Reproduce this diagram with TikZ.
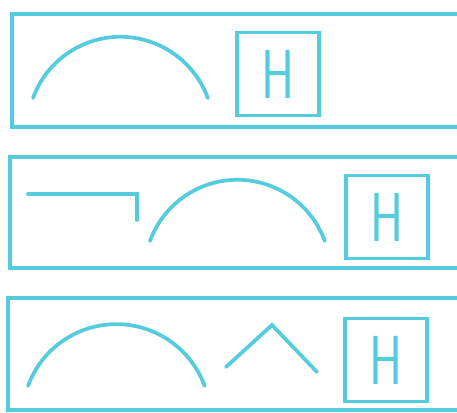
\documentclass[tikz,border=0pt]{standalone}
\usepackage{fontspec}
\usepackage{graphicx}
\definecolor{ink}{RGB}{85,203,222}
\tikzset{
  panel/.style={draw=ink,line width=2.4pt},
  stroke/.style={draw=ink,line width=2.8pt,line cap=round,line join=miter},
  hbox/.style={draw=ink,line width=2.5pt,minimum width=61.5pt,minimum height=62pt,inner sep=0pt,
    text=ink,font=\sffamily\fontsize{52}{52}\selectfont}
}
\newcommand\hletter{\scalebox{0.72}[1]{H}}
\begin{document}
\begin{tikzpicture}[x=0.75pt,y=-0.75pt]
  \useasboundingbox (0,0) rectangle (457,413);
  % first row
  \draw[panel] (12,14) rectangle (480,127);
  \draw[stroke] (33,98) arc[start angle=200,end angle=340,radius=93];
  \node[hbox] (h1) at (278,74) {\hletter};
  % second row
  \draw[panel] (10,157) rectangle (480,268);
  \draw[stroke] (28,194) coordinate (s) -- (137,194) coordinate (k) -- (137,220) coordinate (e);
  \draw[stroke] (150,241) arc[start angle=200,end angle=340,radius=93];
  \node[hbox] (h2) at (387,217) {\hletter};
  % third row
  \draw[panel] (8,298) rectangle (480,410);
  \draw[stroke] (28,386) arc[start angle=200,end angle=340,radius=94];
  \draw[stroke] (226,367) coordinate (l) -- (272,325) coordinate (t) -- (317,372) coordinate (r);
  \node[hbox] (h3) at (386,360) {\hletter};
\end{tikzpicture}
\end{document}
